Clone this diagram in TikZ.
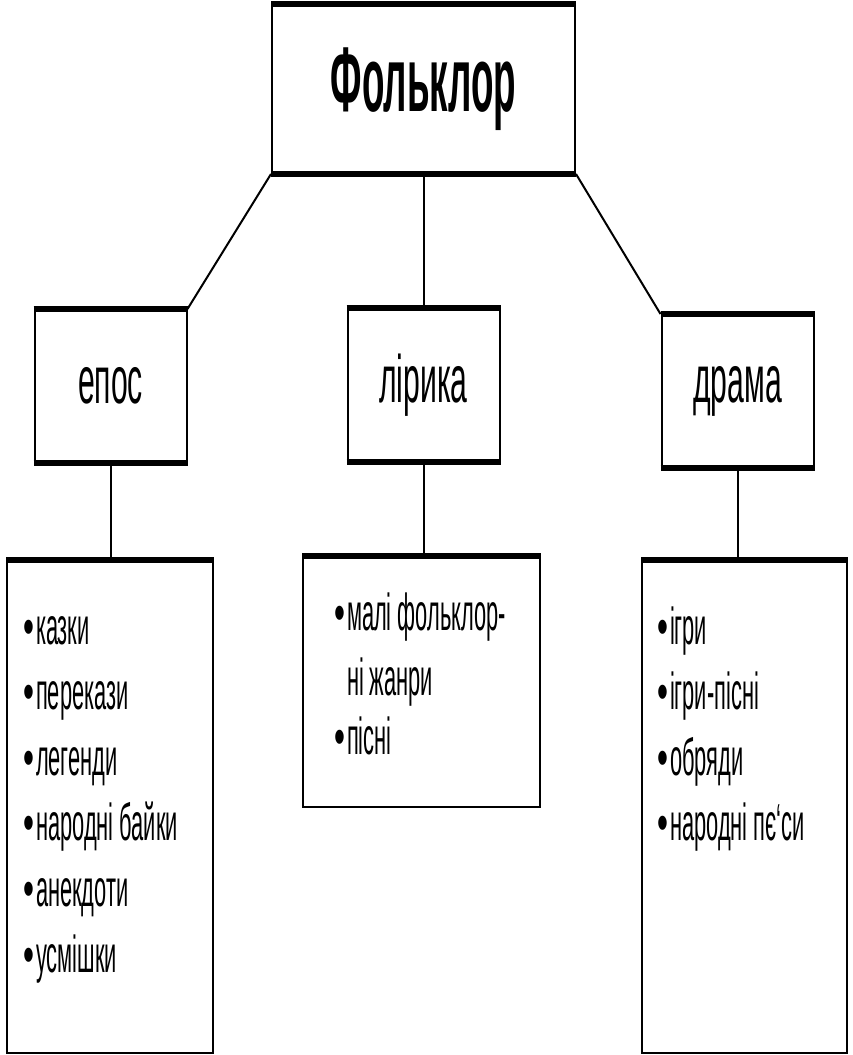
\documentclass[tikz,border=0pt]{standalone}
\usepackage{fontspec}
\setmainfont[FakeStretch=0.45]{Liberation Sans}
\newfontfamily\headfont[FakeStretch=0.40]{Liberation Sans}
\newfontfamily\listfont[FakeStretch=0.42]{Liberation Sans}
\newfontfamily\dotfont[FakeStretch=0.6]{Liberation Sans}
\usetikzlibrary{positioning}
\newcommand{\itemdot}{{\dotfont •}\hspace{1.5pt}}
\newcommand{\itemgap}{\phantom{\itemdot}}
\tikzset{
  box/.style     = {draw, line width=2pt, inner sep=0pt},
  headbox/.style = {box, minimum width=303pt, minimum height=168pt,
                    font=\fontsize{92}{100}\headfont\bfseries},
  kindbox/.style = {box, minimum width=152pt, minimum height=152pt,
                    font=\fontsize{67}{80}\selectfont},
  listbox/.style = {box, minimum width=206pt, minimum height=492pt},
  listtext/.style= {inner sep=0pt, anchor=north west, align=left,
                    font=\fontsize{52}{65.6}\listfont},
  heavy/.style   = {line width=6pt},
  link/.style    = {line width=2pt}
}
\begin{document}
\begin{tikzpicture}[x=1pt, y=-1pt]
  % page frame, 853 x 1055
  \useasboundingbox (0,0) rectangle (853,1055);

  % main node
  \node[headbox] (folk) at (423.5,89) {Фольклор};

  % three kinds
  \node[kindbox] (epos)   at (110.5,386) {епос};
  \node[kindbox] (lyric)  at (423.5,385) {лірика};
  \node[kindbox] (drama)  at (737.5,391) {драма};

  % lists
  \node[listbox] (eposlist)  at (110,807) {};
  \node[listbox, minimum width=237pt, minimum height=250pt] (lyriclist) at (421.5,682) {};
  \node[listbox, minimum width=205pt] (dramalist) at (744.5,807) {};

  \node[listtext] (epositems) at ([xshift=17.4pt, yshift=-38pt]eposlist.north west)
    {\strut\itemdot казки\\ \itemdot перекази\\ \itemdot легенди\\
     \itemdot народні байки\\ \itemdot анекдоти\\ \itemdot усмішки};
  \node[listtext] (lyricitems) at ([xshift=32.4pt, yshift=-28pt]lyriclist.north west)
    {\strut\itemdot малі фольклор-\\ \itemgap ні жанри\\[-7pt] \itemdot пісні};
  \node[listtext] (dramaitems) at ([xshift=16.4pt, yshift=-38pt]dramalist.north west)
    {\strut\itemdot ігри\\ \itemdot ігри-пісні\\ \itemdot обряди\\ \itemdot народні пє‘си};

  % heavy top and bottom edges
  \foreach \b in {folk, epos, lyric, drama} {
    \draw[heavy] (\b.north west) -- (\b.north east);
    \draw[heavy] (\b.south west) -- (\b.south east);
  }
  \foreach \b in {eposlist, lyriclist, dramalist}
    \draw[heavy] (\b.north west) -- (\b.north east);

  % connectors
  \draw[link] (folk.south west) -- (epos.north east);
  \draw[link] (folk.south) -- (lyric.north);
  \draw[link] (folk.south east) -- (drama.north west);
  \draw[link] (epos.south) -- (epos.south |- eposlist.north);
  \draw[link] (lyric.south) -- (lyric.south |- lyriclist.north);
  \draw[link] (drama.south) -- (drama.south |- dramalist.north);
\end{tikzpicture}
\end{document}
